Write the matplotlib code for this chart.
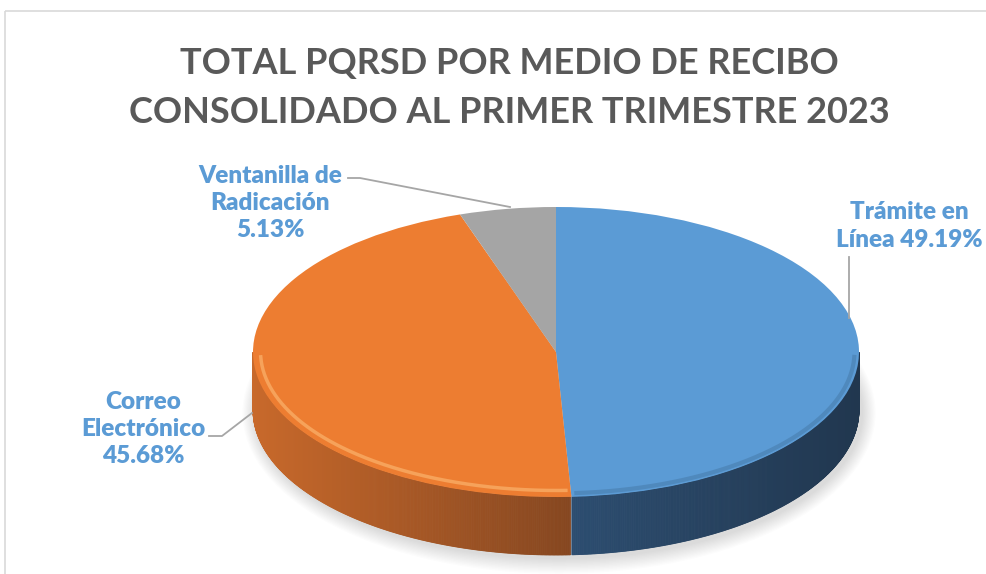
import numpy as np
import matplotlib
matplotlib.use("Agg")
import matplotlib.pyplot as plt
from matplotlib.patches import Ellipse, Rectangle
from matplotlib.colors import to_rgb

# datos
categorias = ["Trámite en Línea", "Correo Electrónico", "Ventanilla de Radicación"]
valores = [49.19, 45.68, 5.13]
etiquetas = ["Trámite en\nLínea 49.19%", "Correo\nElectrónico\n45.68%", "Ventanilla de\nRadicación\n5.13%"]
titulo = "TOTAL PQRSD POR MEDIO DE RECIBO\nCONSOLIDADO AL PRIMER TRIMESTRE 2023"

col_top = ["#5B9BD5", "#ED7D31", "#A5A5A5"]
# lado: (color izq, color der)
col_side = [("#2C4D70", "#21374F"), ("#C8692B", "#864720"), ("#707070", "#5A5A5A")]
AZUL_TXT = "#5B9BD5"
W, H = 986, 574
FONT = ["Lato", "DejaVu Sans"]

fig = plt.figure(figsize=(W / 100, H / 100), dpi=100)
fig.patch.set_facecolor("white")

# ejes del pastel: elipse centro (556,352) px, a=303, b=145
cx, cy, a, b = 556, 352, 303, 145
prof = 58 / b
ax = fig.add_axes([(cx - a) / W, (H - cy - b) / H, 2 * a / W, 2 * b / H])
ax.set_axis_off()

# sombra
for k in range(12):
    s = 1 - k / 12
    ax.add_patch(Ellipse((0.01, -prof - 0.02), 2.0 + 0.09 * s, 2.0 + 0.22 * s,
                         facecolor="#000000", alpha=0.012, lw=0, zorder=0, clip_on=False))

# angulos de cada porcion (sentido horario desde 90)
frac = np.array(valores) / sum(valores)
ini = 90.0
angs = []
for f in frac:
    fin = ini - 360 * f
    angs.append((fin, ini))
    ini = fin

def en_rango(t, lo, hi):
    return (t - lo) % 360 <= (hi - lo)

# caras laterales (solo mitad frontal)
ts = np.linspace(180, 360, 721)
for i, (lo, hi) in enumerate(angs):
    c1, c2 = np.array(to_rgb(col_side[i][0])), np.array(to_rgb(col_side[i][1]))
    sel = [t for t in ts if en_rango(t, lo, hi)]
    if len(sel) < 2:
        continue
    xs_all = np.cos(np.radians(sel))
    x0, x1 = xs_all.min(), xs_all.max()
    for t1, t2 in zip(sel[:-1], sel[1:]):
        r1, r2 = np.radians(t1), np.radians(t2)
        xm = (np.cos(r1) + np.cos(r2)) / 2
        w = (xm - x0) / (x1 - x0 + 1e-9)
        c = c1 * (1 - w) + c2 * w
        px = [np.cos(r1), np.cos(r2), np.cos(r2), np.cos(r1)]
        py = [np.sin(r1), np.sin(r2), np.sin(r2) - prof, np.sin(r1) - prof]
        ax.fill(px, py, color=c, lw=0.6, ec=c, zorder=1, clip_on=False)

# cara superior
wedges, _ = ax.pie(valores, colors=col_top, startangle=90, counterclock=False,
                   radius=1, wedgeprops=dict(lw=0, zorder=3))
for w_ in wedges:
    w_.set_clip_on(False)
ax.set_aspect("auto")
ax.set_xlim(-1, 1)
ax.set_ylim(-1, 1)

# bisel del borde frontal
lim = 360 + angs[0][0]  # frontera azul/naranja en la mitad frontal
tt = np.radians(np.linspace(182, lim - 1, 200))
ax.plot(0.975 * np.cos(tt), 0.955 * np.sin(tt), color="#F6A25A", lw=2.5, zorder=4, clip_on=False)
tb = np.radians(np.linspace(lim + 1, 358, 200))
ax.plot(0.985 * np.cos(tb), 0.975 * np.sin(tb), color="#3F6E99", lw=3, alpha=0.4, zorder=4, clip_on=False)

# capa superior: texto, guias, marco
ov = fig.add_axes([0, 0, 1, 1], facecolor="none")
ov.set_xlim(0, W)
ov.set_ylim(H, 0)
ov.set_axis_off()
ov.add_patch(Rectangle((5, 11), W + 20, H + 20, fill=False, ec="#D9D9D9", lw=1.2))

ov.text(W / 2 + 16, 88, titulo, ha="center", va="center", fontsize=26, fontweight="bold",
        color="#595959", family=FONT, linespacing=1.58)

lab_kw = dict(ha="center", va="center", fontsize=17.5, fontweight="heavy", color=AZUL_TXT,
              family=FONT, linespacing=1.3)
ov.text(909, 226, etiquetas[0], **lab_kw)
ov.text(143, 429, etiquetas[1], **lab_kw)
ov.text(270, 203, etiquetas[2], **lab_kw)

guia = dict(color="#A6A6A6", lw=1.3)
ov.plot([849, 849], [257, 318], **guia)
ov.plot([209, 222, 252], [436, 436, 413], **guia)
ov.plot([348, 360, 510], [178, 178, 207], **guia)

fig.savefig("out.png", dpi=100, facecolor="white")
